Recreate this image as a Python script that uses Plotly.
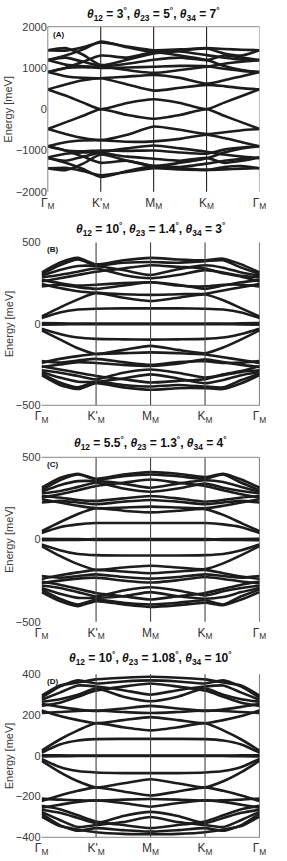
import plotly.graph_objects as go

# ---------------- data ----------------
K_PATH = [0, 1/3, 2/3, 1, 1.5, 2, 2.5, 3, 10/3, 11/3, 4]
TICK_POS = [0, 1, 2, 3, 4]
TICK_TEXT = ['Γ<sub>M</sub>', "K'<sub>M</sub>", 'M<sub>M</sub>', 'K<sub>M</sub>', 'Γ<sub>M</sub>']

BANDS_A = [
    [480, 330, 160, 0, 150, 240, 150, 0, 160, 320, 480],
    [480, 600, 700, 750, 600, 450, 520, 590, 560, 510, 480],
    [900, 800, 760, 750, 790, 830, 760, 620, 700, 800, 900],
    [900, 1000, 1020, 1000, 1010, 1030, 1050, 1040, 980, 930, 900],
    [900, 1000, 1150, 1300, 1250, 1380, 1300, 1190, 1050, 950, 900],
    [1190, 1080, 1040, 1030, 1100, 1200, 1250, 1190, 1300, 1250, 1190],
    [1190, 1250, 1150, 1050, 950, 880, 950, 1030, 1100, 1150, 1190],
    [1190, 1300, 1450, 1640, 1500, 1380, 1400, 1310, 1250, 1200, 1190],
    [1430, 1480, 1320, 1070, 1200, 1350, 1420, 1470, 1350, 1300, 1430],
    [1430, 1420, 1500, 1620, 1520, 1430, 1450, 1480, 1460, 1440, 1430],
    [-480, -320, -160, 0, -140, -230, -140, 0, -160, -320, -480],
    [-480, -600, -700, -750, -620, -420, -500, -600, -560, -510, -480],
    [-900, -800, -760, -750, -790, -780, -720, -620, -700, -800, -900],
    [-900, -1000, -1020, -1000, -1010, -1000, -1050, -1080, -980, -930, -900],
    [-900, -1000, -1150, -1300, -1250, -1380, -1300, -1190, -1050, -950, -900],
    [-1170, -1080, -1050, -1060, -1150, -1200, -1250, -1180, -1300, -1250, -1170],
    [-1190, -1250, -1150, -1050, -950, -880, -950, -1030, -1100, -1150, -1190],
    [-1170, -1300, -1450, -1640, -1500, -1380, -1400, -1320, -1250, -1200, -1170],
    [-1430, -1480, -1320, -1100, -1250, -1380, -1430, -1470, -1400, -1380, -1430],
    [-1430, -1420, -1500, -1600, -1520, -1430, -1460, -1470, -1460, -1440, -1430],
]

BANDS_B = [
    [5, 3, 2, 2, 2, 2, 2, 2, 2, 3, 5],
    [36, 70, 88, 93, 95, 95, 95, 93, 88, 70, 36],
    [45, 100, 150, 190, 160, 140, 160, 180, 145, 95, 45],
    [245, 220, 200, 190, 182, 178, 182, 185, 205, 225, 245],
    [230, 240, 225, 215, 235, 255, 235, 230, 240, 240, 230],
    [270, 250, 235, 240, 250, 255, 240, 215, 235, 255, 270],
    [260, 280, 300, 320, 340, 360, 350, 340, 310, 290, 260],
    [285, 300, 320, 340, 300, 280, 300, 330, 315, 295, 285],
    [295, 330, 355, 355, 330, 300, 335, 360, 345, 315, 295],
    [305, 360, 395, 360, 375, 380, 375, 385, 390, 345, 305],
    [315, 375, 405, 365, 390, 405, 395, 390, 400, 365, 315],
    [-5, -3, -2, -2, -2, -2, -2, -2, -2, -3, -5],
    [-30, -62, -84, -92, -95, -97, -95, -92, -84, -62, -30],
    [-40, -95, -150, -185, -160, -135, -160, -180, -145, -95, -40],
    [-240, -215, -198, -185, -180, -175, -180, -188, -205, -222, -240],
    [-228, -238, -225, -215, -235, -252, -235, -230, -240, -238, -228],
    [-265, -250, -235, -240, -252, -258, -245, -218, -235, -252, -265],
    [-260, -280, -300, -320, -340, -360, -350, -340, -310, -290, -260],
    [-285, -300, -320, -340, -300, -280, -300, -330, -315, -295, -285],
    [-295, -330, -355, -355, -335, -310, -335, -365, -345, -315, -295],
    [-305, -360, -390, -355, -375, -385, -375, -385, -390, -345, -305],
    [-315, -375, -400, -365, -390, -405, -395, -395, -400, -365, -315],
]

BANDS_C = [
    [5, 3, 2, 2, 2, 2, 2, 2, 2, 3, 5],
    [40, 75, 92, 100, 100, 100, 100, 100, 92, 75, 40],
    [50, 105, 155, 190, 175, 165, 175, 185, 150, 100, 50],
    [245, 225, 205, 190, 195, 200, 195, 190, 205, 225, 245],
    [225, 235, 225, 215, 230, 240, 230, 215, 225, 235, 225],
    [265, 255, 240, 235, 250, 265, 250, 230, 240, 255, 265],
    [255, 275, 300, 325, 345, 365, 345, 325, 300, 275, 255],
    [280, 295, 320, 345, 310, 290, 310, 340, 315, 295, 280],
    [290, 330, 355, 355, 340, 315, 340, 360, 350, 320, 290],
    [300, 360, 395, 365, 385, 395, 385, 370, 395, 345, 300],
    [315, 375, 400, 370, 395, 410, 400, 380, 400, 365, 315],
    [-5, -3, -2, -2, -2, -2, -2, -2, -2, -3, -5],
    [-30, -65, -88, -95, -97, -97, -97, -95, -88, -65, -30],
    [-40, -100, -150, -185, -170, -160, -170, -180, -145, -95, -40],
    [-240, -218, -200, -185, -195, -205, -195, -185, -205, -225, -240],
    [-222, -232, -222, -212, -228, -238, -228, -212, -222, -232, -222],
    [-265, -250, -238, -232, -250, -262, -248, -228, -240, -255, -265],
    [-255, -275, -300, -325, -345, -365, -345, -325, -300, -275, -255],
    [-280, -295, -320, -345, -310, -290, -310, -340, -315, -295, -280],
    [-295, -330, -355, -355, -345, -320, -345, -360, -350, -320, -295],
    [-305, -360, -395, -365, -385, -395, -385, -370, -395, -345, -305],
    [-320, -375, -405, -375, -395, -410, -400, -385, -400, -365, -320],
]

BANDS_D = [
    [3, 2, 1, 1, 1, 1, 1, 1, 1, 2, 3],
    [15, 55, 75, 82, 83, 83, 83, 82, 75, 55, 15],
    [25, 80, 125, 160, 140, 125, 140, 160, 125, 80, 25],
    [222, 195, 175, 160, 175, 190, 175, 160, 175, 195, 222],
    [210, 215, 220, 222, 215, 210, 215, 222, 220, 215, 210],
    [255, 240, 228, 220, 232, 245, 232, 220, 228, 240, 255],
    [245, 260, 290, 320, 340, 355, 340, 320, 290, 260, 245],
    [265, 278, 300, 330, 290, 268, 290, 330, 300, 278, 265],
    [275, 310, 345, 340, 322, 300, 322, 340, 345, 310, 275],
    [285, 340, 370, 355, 365, 370, 365, 355, 370, 340, 285],
    [295, 345, 360, 375, 383, 388, 383, 375, 360, 345, 295],
    [-3, -2, -1, -1, -1, -1, -1, -1, -1, -2, -3],
    [-15, -55, -75, -82, -85, -85, -85, -82, -75, -55, -15],
    [-25, -80, -125, -155, -135, -115, -135, -155, -125, -80, -25],
    [-222, -195, -172, -155, -175, -195, -175, -155, -172, -195, -222],
    [-210, -215, -218, -220, -215, -212, -215, -220, -218, -215, -210],
    [-255, -240, -226, -218, -232, -250, -232, -218, -226, -240, -255],
    [-245, -262, -292, -322, -340, -355, -340, -322, -292, -262, -245],
    [-265, -280, -305, -330, -295, -275, -295, -330, -305, -280, -265],
    [-275, -315, -350, -340, -325, -300, -325, -340, -350, -315, -275],
    [-285, -340, -368, -355, -365, -372, -365, -355, -368, -340, -285],
    [-298, -345, -362, -375, -383, -385, -383, -375, -362, -345, -298],
]

TITLES = [
    '<b><i>θ</i><sub>12</sub> = 3<sup>°</sup>, <i>θ</i><sub>23</sub> = 5<sup>°</sup>, <i>θ</i><sub>34</sub> = 7<sup>°</sup></b>',
    '<b><i>θ</i><sub>12</sub> = 10<sup>°</sup>, <i>θ</i><sub>23</sub> = 1.4<sup>°</sup>, <i>θ</i><sub>34</sub> = 3<sup>°</sup></b>',
    '<b><i>θ</i><sub>12</sub> = 5.5<sup>°</sup>, <i>θ</i><sub>23</sub> = 1.3<sup>°</sup>, <i>θ</i><sub>34</sub> = 4<sup>°</sup></b>',
    '<b><i>θ</i><sub>12</sub> = 10<sup>°</sup>, <i>θ</i><sub>23</sub> = 1.08<sup>°</sup>, <i>θ</i><sub>34</sub> = 10<sup>°</sup></b>',
]
PANEL_LABELS = ['(A)', '(B)', '(C)', '(D)']
Y_RANGES = [[-2000, 2000], [-500, 500], [-500, 500], [-400, 400]]
Y_TICKS = [[-2000, -1000, 0, 1000, 2000], [-500, 0, 500], [-500, 0, 500], [-400, -200, 0, 200, 400]]
Y_TITLE = 'Energy [meV]'

# ---------------- layout geometry (pixels) ----------------
W, H = 287, 861
X_PX = [(47.8, 259.5), (41.6, 259.5), (41.6, 259.5), (41.6, 259.5)]
Y_PX = [(26.7, 191.7), (242.4, 405.3), (457.3, 621.7), (674.3, 837.3)]
TITLE_Y_PX = [14, 229, 443, 658]
FRAMES = [('top', 'left', 'right'), ('bottom',), ('top',), ('bottom',)]

def px2x(p):
    return p / W

def px2y(p):
    return 1 - p / H

fig = go.Figure()
all_bands = [BANDS_A, BANDS_B, BANDS_C, BANDS_D]
shapes, annotations = [], []
layout = dict(width=W, height=H, margin=dict(l=0, r=0, t=0, b=0, autoexpand=False),
              paper_bgcolor='white', plot_bgcolor='white', showlegend=False,
              template='none',
              font=dict(family='Liberation Sans, Arial, sans-serif', color='#333'))

for i, bands in enumerate(all_bands):
    sfx = '' if i == 0 else str(i + 1)
    xa, ya = 'x' + sfx, 'y' + sfx
    for b in bands:
        fig.add_trace(go.Scatter(
            x=K_PATH, y=b, xaxis=xa, yaxis=ya, mode='lines',
            line=dict(color='#1c1c1c', width=2.6, shape='spline', smoothing=0.6),
            hoverinfo='skip', showlegend=False))
    xd = [px2x(X_PX[i][0]), px2x(X_PX[i][1])]
    yd = [px2y(Y_PX[i][1]), px2y(Y_PX[i][0])]
    layout['xaxis' + sfx] = dict(domain=xd, range=[0, 4], anchor=ya, automargin=False,
                                 tickvals=TICK_POS, ticktext=TICK_TEXT,
                                 showgrid=False, zeroline=False, showline=False,
                                 ticks='', ticklen=0, ticklabelstandoff=2,
                                 tickfont=dict(size=12, color='#333'),
                                 fixedrange=True)
    layout['yaxis' + sfx] = dict(domain=yd, range=Y_RANGES[i], anchor=xa, automargin=False,
                                 tickvals=Y_TICKS[i], showgrid=False, zeroline=False,
                                 showline=False, ticks='', ticklen=0,
                                 tickfont=dict(size=11, color='#3a3a3a'),
                                 fixedrange=True)
    xref_d, yref_d = xa + ' domain', ya + ' domain'
    for tp in TICK_POS[1:4]:
        shapes.append(dict(type='line', xref=xa, yref=yref_d, x0=tp, x1=tp, y0=0, y1=1,
                           line=dict(color='#222' if i == 0 else '#444', width=1.1), layer='above'))
    shapes.append(dict(type='line', xref=xa, yref=yref_d, x0=TICK_POS[-1], x1=TICK_POS[-1], y0=0, y1=1,
                       line=dict(color='#888' if i == 0 else '#111', width=1.1), layer='above'))
    for edge in FRAMES[i]:
        if edge == 'top':
            shapes.append(dict(type='line', xref=xref_d, yref=yref_d, x0=0, x1=1, y0=1, y1=1,
                               line=dict(color='#888', width=1)))
        elif edge == 'bottom':
            shapes.append(dict(type='line', xref=xref_d, yref=yref_d, x0=0, x1=1, y0=0, y1=0,
                               line=dict(color='#888', width=1)))
        elif edge == 'left':
            shapes.append(dict(type='line', xref=xref_d, yref=yref_d, x0=0, x1=0, y0=0, y1=1,
                               line=dict(color='#888', width=1)))
    annotations.append(dict(text=TITLES[i], xref='paper', yref='paper',
                            x=(xd[0] + xd[1]) / 2, y=px2y(TITLE_Y_PX[i]),
                            xanchor='center', yanchor='middle', showarrow=False,
                            font=dict(size=12, color='#111')))
    annotations.append(dict(text='<b>' + PANEL_LABELS[i] + '</b>', xref=xref_d, yref=yref_d,
                            x=0.015, y=0.995, xanchor='left', yanchor='top', showarrow=False,
                            font=dict(size=8, color='#111')))
    annotations.append(dict(text=Y_TITLE, xref='paper', yref='paper',
                            x=px2x(8.5), y=(yd[0] + yd[1]) / 2, textangle=-90,
                            xanchor='center', yanchor='middle', showarrow=False,
                            font=dict(size=11, color='#3a3a3a')))

layout['shapes'] = shapes
layout['annotations'] = annotations
fig.update_layout(**layout)
fig.write_html('out.html', config={'displayModeBar': False, 'staticPlot': True},
               post_script="document.body.style.margin='0';document.body.style.padding='0';document.body.style.overflow='hidden';")
